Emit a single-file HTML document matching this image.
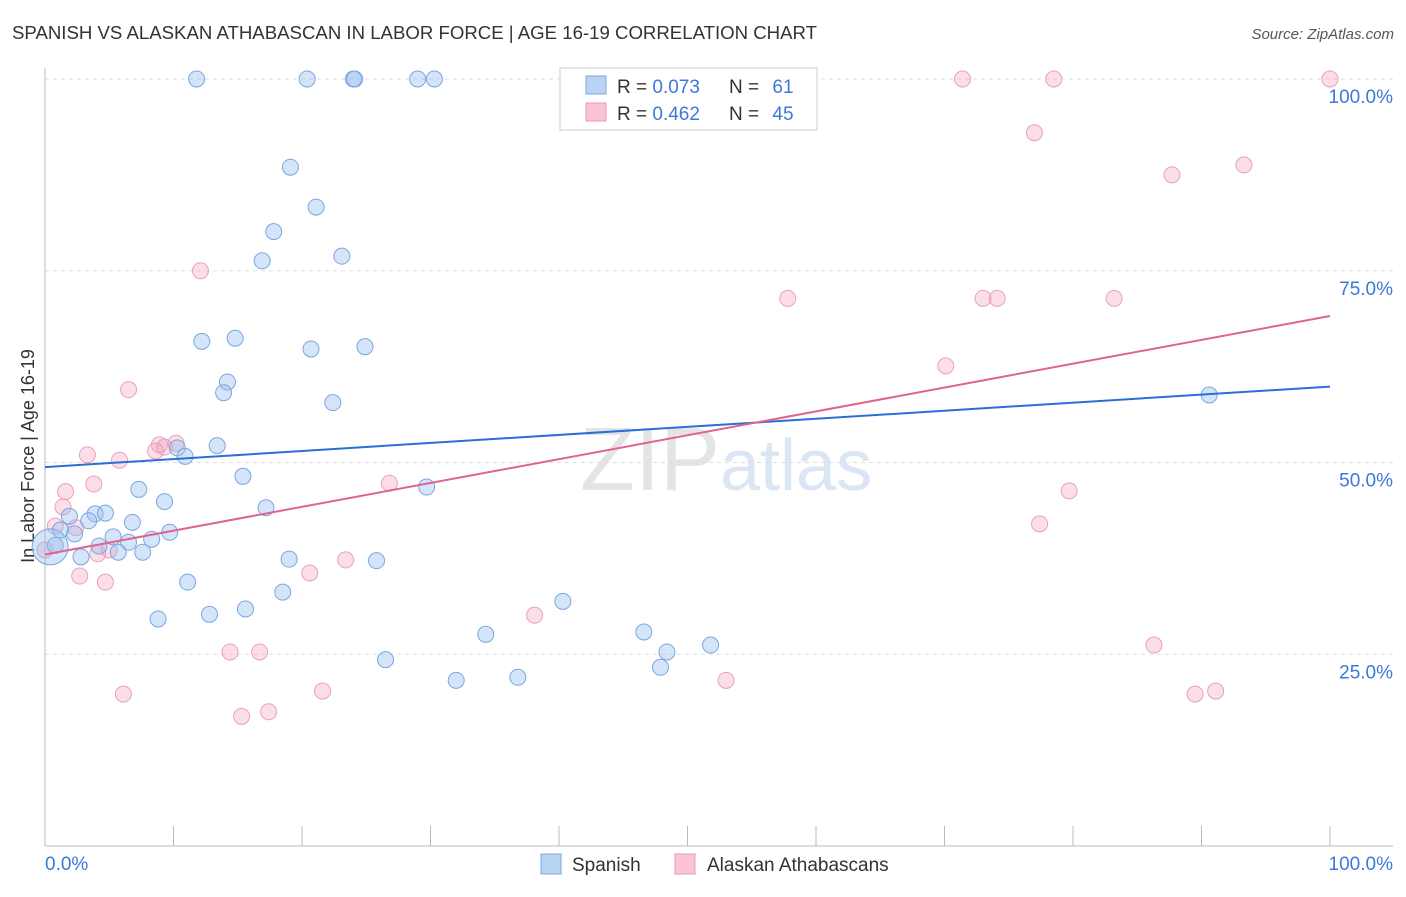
<!DOCTYPE html>
<html><head><meta charset="utf-8"><style>
body{margin:0;background:#fff;font-family:"Liberation Sans",sans-serif;}
svg text{font-family:"Liberation Sans",sans-serif;}
</style></head><body>
<svg id="chart" width="1406" height="892">
<text x="12" y="39" font-size="18" fill="#333" textLength="805" lengthAdjust="spacingAndGlyphs">SPANISH VS ALASKAN ATHABASCAN IN LABOR FORCE | AGE 16-19 CORRELATION CHART</text>
<text x="1394" y="39" font-size="15" fill="#555" font-style="italic" text-anchor="end">Source: ZipAtlas.com</text>
<text x="720" y="490" font-size="90" fill="#e4e4e4" text-anchor="end" font-family="Liberation Serif">ZIP</text>
<text x="720" y="490" font-size="72" fill="#dbe6f5">atlas</text>
<text transform="translate(34,456) rotate(-90)" font-size="18" fill="#333" text-anchor="middle">In Labor Force | Age 16-19</text>
<g id="grid"></g><g id="pts"></g><g id="lines"></g>
<g>
<rect x="560" y="68" width="257" height="62" fill="#fff" stroke="#ccc"/>
<rect x="586" y="76" width="20" height="18" fill="#b9d3f3" stroke="#7fa8e0"/>
<rect x="586" y="103" width="20" height="18" fill="#f9c4d5" stroke="#e89ab4"/>
<text x="617" y="93" font-size="19" fill="#333">R = <tspan fill="#3d78d8">0.073</tspan></text>
<text x="729" y="93" font-size="19" fill="#333">N = <tspan fill="#3d78d8" dx="8">61</tspan></text>
<text x="617" y="120" font-size="19" fill="#333">R = <tspan fill="#3d78d8">0.462</tspan></text>
<text x="729" y="120" font-size="19" fill="#333">N = <tspan fill="#3d78d8" dx="8">45</tspan></text>
</g>
<g>
<rect x="541" y="854" width="20" height="20" fill="#b9d3f3" stroke="#7fa8e0"/>
<text x="572" y="871" font-size="19" fill="#333">Spanish</text>
<rect x="675" y="854" width="20" height="20" fill="#f9c4d5" stroke="#e89ab4"/>
<text x="707" y="871" font-size="19" fill="#333">Alaskan Athabascans</text>
</g>
</svg>
<script>
const yTicks=[25,50,75,100];
const yTickLabels=["25.0%","50.0%","75.0%","100.0%"];
const xTicks=[0,10,20,30,40,50,60,70,80,90,100];
const spanishX=[11.8,20.4,24.0,24.1,29.0,30.3,19.1,21.1,17.8,16.9,23.1,12.2,14.8,20.7,24.9,14.2,13.9,22.4,13.4,10.3,10.9,15.4,29.7,7.3,9.3,17.2,1.9,3.9,4.7,3.4,6.8,1.2,2.3,9.7,5.3,8.3,6.5,4.2,5.7,7.6,2.8,19.0,25.8,11.1,18.5,15.6,12.8,8.8,40.3,34.3,46.6,48.4,51.8,47.9,26.5,32.0,36.8,90.6,0.8,0.4];
const spanishY=[100,100,100,100,100,100,88.5,83.3,80.1,76.3,76.9,65.8,66.2,64.8,65.1,60.5,59.1,57.8,52.2,51.9,50.8,48.2,46.8,46.5,44.9,44.1,43.0,43.3,43.4,42.4,42.2,41.2,40.7,40.9,40.3,40.0,39.6,39.1,38.3,38.3,37.7,37.4,37.2,34.4,33.1,30.9,30.2,29.6,31.9,27.6,27.9,25.3,26.2,23.3,24.3,21.6,22.0,58.8,39.2,39.0];
const athX=[71.4,78.5,100,77.0,93.3,87.7,12.1,57.8,73.0,74.1,83.2,70.1,6.5,8.9,9.3,10.2,8.6,3.3,5.8,26.8,79.7,1.6,3.8,1.4,0.8,2.4,77.4,5.0,4.1,2.7,4.7,20.6,23.4,38.1,14.4,16.7,86.3,6.1,21.6,53.0,89.5,91.1,15.3,17.4,0];
const athY=[100,100,100,93.0,88.8,87.5,75.0,71.4,71.4,71.4,71.4,62.6,59.5,52.3,52.0,52.5,51.5,51.0,50.3,47.3,46.3,46.2,47.2,44.2,41.7,41.5,42.0,38.6,38.1,35.2,34.4,35.6,37.3,30.1,25.3,25.3,26.2,19.8,20.2,21.6,19.8,20.2,16.9,17.5,38.6];
const trendSpanish=[49.4,59.9];
const trendAth=[38.0,69.1];
const NS="http://www.w3.org/2000/svg";
const xs=v=>45+v*12.85, ys=v=>846-v*7.67;
function mk(t,a,p){const e=document.createElementNS(NS,t);for(const k in a)e.setAttribute(k,a[k]);p.appendChild(e);return e;}
const g=document.getElementById('grid');
yTicks.forEach((t,i)=>{
 const l=mk('line',{x1:45,x2:1393,y1:ys(t),y2:ys(t),stroke:'#ddd','stroke-dasharray':'4,4'},g);
 
 
 const tx=mk('text',{x:1393,y:ys(t)+24,'font-size':19,fill:'#3d78d8','text-anchor':'end'},g);
 tx.textContent=yTickLabels[i];
 
 
});
mk('line',{x1:45,x2:45,y1:68,y2:846,stroke:'#bbb'},g);
mk('line',{x1:45,x2:1393,y1:846,y2:846,stroke:'#bbb'},g);
xTicks.forEach(t=>{
 const l=mk('line',{x1:xs(t),x2:xs(t),y1:826,y2:846,stroke:'#bbb'},g);
 
 
});
const x0=mk('text',{x:45,y:870,'font-size':19,fill:'#3d78d8'},g);x0.textContent='0.0%';


const x1=mk('text',{x:1393,y:870,'font-size':19,fill:'#3d78d8','text-anchor':'end'},g);x1.textContent='100.0%';


const p=document.getElementById('pts');
athX.forEach((v,i)=>{
 const c=mk('circle',{cx:xs(v),cy:ys(athY[i]),r:8,fill:'rgba(244,160,190,0.35)',stroke:'#eba0ba','stroke-width':1},p);
 
 
});
spanishX.forEach((v,i)=>{
 const big=i===spanishX.length-1;
 const c=mk('circle',{cx:xs(v),cy:ys(spanishY[i]),r:big?18:8,fill:'rgba(150,190,240,0.4)',stroke:'#7aa6e0','stroke-width':1},p);
 
 
});
const ln=document.getElementById('lines');
const a=mk('line',{x1:xs(0),y1:ys(trendSpanish[0]),x2:xs(100),y2:ys(trendSpanish[1]),stroke:'#2a6fd6','stroke-width':2},ln);


const b=mk('line',{x1:xs(0),y1:ys(trendAth[0]),x2:xs(100),y2:ys(trendAth[1]),stroke:'#e0648e','stroke-width':2},ln);


</script>
</body></html>
